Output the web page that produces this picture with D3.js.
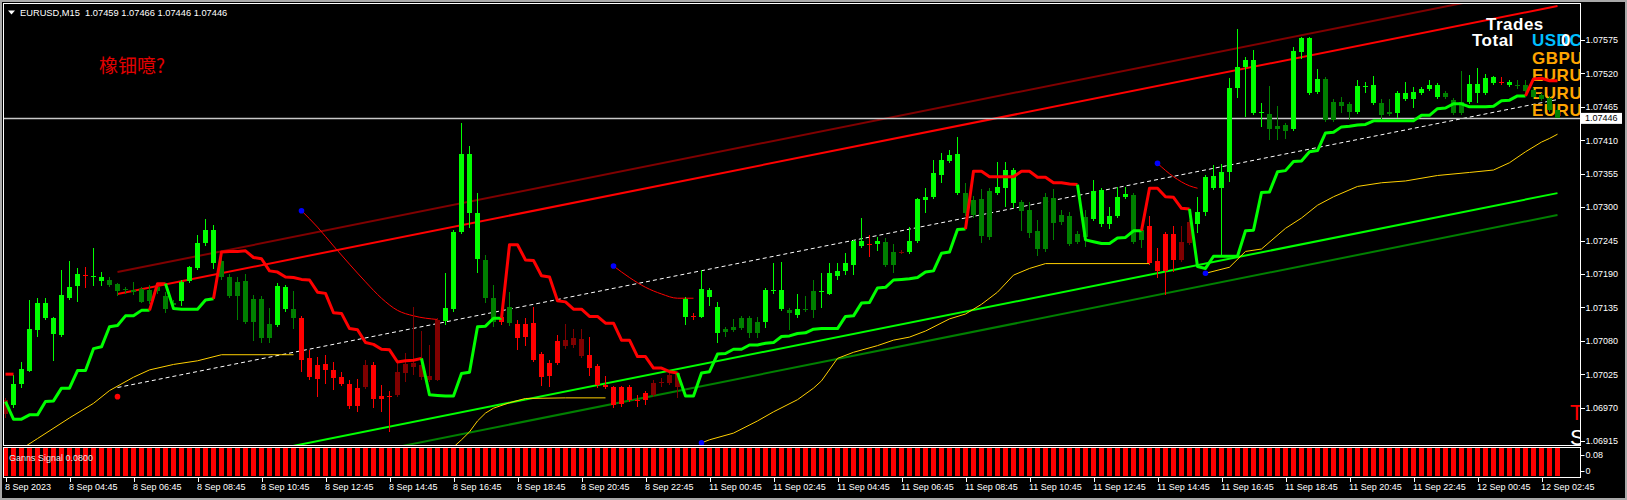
<!DOCTYPE html>
<html>
<head>
<meta charset="utf-8">
<script src="https://cdn.jsdelivr.net/npm/d3@7/dist/d3.min.js"></script>
<style>
    html, body { margin: 0; padding: 0; background: #000; }
    #chart { width: 1627px; height: 500px; }
    text { font-family: "Liberation Sans", Arial, sans-serif; }
</style>
</head>
<body>
<div id="chart"></div>
<script>
//Colores fijos
const COLOR_UP = '#00FF00',
COLOR_UP_DARK = '#008000',
COLOR_DOWN = '#FF0000',
COLOR_DOWN_DARK = '#800000',
COLOR_GOLD = '#FFD000',
COLOR_BLUE = '#0000FF',
COLOR_AXIS = '#FFFFFF',
COLOR_FRAME = '#A8A8A8';

//Datos de las velas (EURUSD M15, desde 8 Sep 02:45)
//G verde alcista, g verde oscuro, R rojo, r rojo oscuro
const barTypes = ('r' + 'GGGGGGGGG' + 'R' + 'GG' + 'ggggggggg' + 'GGGGG' + 'ggggggg' + 'GG' + 'g' +
    'RRRRRRRR' + 'r' + 'RRR' + 'rrrrrr' + 'GGGGG' + 'gg' + 'R' + 'g' + 'RRRRRR' + 'rrr' + 'RRRRRRRR' + 'rrrr' +
    'G' + 'R' + 'GGG' + 'ggggg' + 'GGG' + 'g' + 'G' + 'gg' + 'GGGGGG' + 'R' + 'G' + 'gg' + 'r' + 'GGGGGGG' +
    'gggg' + 'GGG' + 'ggggggggg' + 'GGGGG' + 'gg' + 'RRRR' + 'rr' + 'GGGGGGGGG' + 'ggg' + 'GGGG' + 'gggg' +
    'GGG' + 'gg' + 'GGGGGG' + 'ggg' + 'GGGG' + 'R' + 'G' + 'gggggg').split('');

const opens = [
    1.06959,1.06974,1.07009,1.07030,1.07098,1.07117,1.07091,1.07089,1.07150,1.07170,
    1.07188,1.07185,1.07178,1.07180,1.07173,1.07165,1.07164,1.07165,1.07164,1.07168,
    1.07154,1.07142,1.07145,1.07178,1.07200,1.07241,1.07208,1.07211,1.07185,1.07177,
    1.07178,1.07149,1.07149,1.07108,1.07106,1.07132,1.07132,1.07117,1.07052,1.07040,
    1.07042,1.07032,1.07020,1.07009,1.07002,1.07004,1.07040,1.06989,1.06989,1.06991,
    1.07027,1.07037,1.07020,1.07015,1.07015,1.07112,1.07132,1.07259,1.07290,1.07214,
    1.07213,1.07150,1.07119,1.07135,1.07108,1.07108,1.07109,1.07058,1.07043,1.07080,
    1.07071,1.07073,1.07055,1.07057,1.07038,1.07007,1.07004,1.07004,1.07004,1.06982,
    1.06994,1.06991,1.07010,1.07010,1.07004,1.07119,1.07121,1.07119,1.07152,1.07093,
    1.07099,1.07103,1.07117,1.07117,1.07111,1.07111,1.07162,1.07132,1.07130,1.07122,
    1.07132,1.07162,1.07160,1.07157,1.07186,1.07195,1.07205,1.07236,1.07239,1.07239,
    1.07242,1.07226,1.07224,1.07226,1.07244,1.07312,1.07317,1.07353,1.07376,1.07323,
    1.07323,1.07312,1.07313,1.07326,1.07323,1.07331,1.07307,1.07308,1.07295,1.07261,
    1.07317,1.07315,1.07287,1.07285,1.07256,1.07284,1.07280,1.07272,1.07272,1.07285,
    1.07317,1.07320,1.07262,1.07269,1.07211,1.07256,1.07256,1.07213,1.07241,1.07272,
    1.07292,1.07331,1.07331,1.07358,1.07496,1.07530,1.07455,1.07455,1.07453,1.07433,
    1.07435,1.07428,1.07555,1.07488,1.07489,1.07511,1.07473,1.07473,1.07470,1.07456,
    1.07498,1.07471,1.07471,1.07456,1.07455,1.07478,1.07478,1.07488,1.07494,1.07481,
    1.07488,1.07476,1.07473,1.07473,1.07488,1.07488,1.07504,1.07506,1.07501,1.07501,
    1.07501,1.07493,1.07484,1.07480,1.07459
];
const highs = [
    1.06986,1.07024,1.07045,1.07147,1.07150,1.07150,1.07119,1.07196,1.07211,1.07200,
    1.07201,1.07233,1.07193,1.07185,1.07175,1.07168,1.07177,1.07168,1.07172,1.07175,
    1.07160,1.07147,1.07180,1.07203,1.07254,1.07280,1.07270,1.07216,1.07190,1.07185,
    1.07190,1.07155,1.07154,1.07134,1.07175,1.07172,1.07162,1.07121,1.07065,1.07053,
    1.07057,1.07045,1.07028,1.07015,1.07017,1.07048,1.07045,1.07007,1.06997,1.07043,
    1.07060,1.07135,1.07096,1.07073,1.07117,1.07191,1.07262,1.07438,1.07400,1.07323,
    1.07221,1.07172,1.07124,1.07160,1.07114,1.07117,1.07135,1.07061,1.07048,1.07089,
    1.07108,1.07099,1.07099,1.07086,1.07042,1.07022,1.07005,1.07005,1.07007,1.06991,
    1.06997,1.07015,1.07019,1.07027,1.07028,1.07152,1.07126,1.07196,1.07167,1.07144,
    1.07103,1.07116,1.07121,1.07121,1.07119,1.07167,1.07208,1.07210,1.07134,1.07157,
    1.07154,1.07180,1.07191,1.07208,1.07208,1.07224,1.07246,1.07282,1.07254,1.07251,
    1.07249,1.07239,1.07229,1.07267,1.07315,1.07331,1.07377,1.07389,1.07394,1.07415,
    1.07340,1.07318,1.07330,1.07331,1.07374,1.07374,1.07364,1.07312,1.07308,1.07279,
    1.07323,1.07330,1.07295,1.07292,1.07261,1.07295,1.07345,1.07331,1.07300,1.07333,
    1.07333,1.07323,1.07265,1.07285,1.07233,1.07259,1.07269,1.07269,1.07279,1.07317,
    1.07353,1.07369,1.07371,1.07512,1.07593,1.07547,1.07558,1.07471,1.07499,1.07466,
    1.07438,1.07563,1.07580,1.07580,1.07527,1.07514,1.07478,1.07481,1.07473,1.07509,
    1.07506,1.07516,1.07478,1.07478,1.07491,1.07506,1.07498,1.07498,1.07509,1.07504,
    1.07491,1.07480,1.07524,1.07517,1.07529,1.07519,1.07516,1.07514,1.07509,1.07509,
    1.07509,1.07496,1.07488,1.07483,1.07466
];
const lows = [
    1.06953,1.06969,1.07002,1.07028,1.07086,1.07114,1.07047,1.07086,1.07147,1.07144,
    1.07167,1.07170,1.07170,1.07168,1.07154,1.07157,1.07155,1.07142,1.07140,1.07157,
    1.07126,1.07134,1.07137,1.07175,1.07196,1.07236,1.07198,1.07180,1.07150,1.07114,
    1.07108,1.07080,1.07076,1.07076,1.07103,1.07127,1.07099,1.07028,1.07015,1.06987,
    1.07009,1.06999,1.07005,1.06968,1.06963,1.07000,1.06969,1.06963,1.06930,1.06987,
    1.07012,1.07024,1.07015,1.07012,1.07014,1.07106,1.07127,1.07256,1.07265,1.07191,
    1.07142,1.07103,1.07106,1.07104,1.07065,1.07071,1.07045,1.07005,1.07004,1.07040,
    1.07066,1.07068,1.07052,1.07022,1.07002,1.07000,1.06969,1.06971,1.06979,1.06971,
    1.06974,1.06987,1.07004,1.07007,1.06986,1.07106,1.07114,1.07117,1.07137,1.07076,
    1.07086,1.07094,1.07098,1.07085,1.07085,1.07101,1.07157,1.07129,1.07098,1.07117,
    1.07127,1.07117,1.07134,1.07155,1.07180,1.07188,1.07188,1.07233,1.07218,1.07228,
    1.07201,1.07191,1.07223,1.07223,1.07241,1.07290,1.07313,1.07340,1.07372,1.07320,
    1.07285,1.07282,1.07241,1.07246,1.07320,1.07300,1.07298,1.07261,1.07249,1.07219,
    1.07226,1.07246,1.07270,1.07236,1.07239,1.07234,1.07277,1.07267,1.07264,1.07282,
    1.07313,1.07239,1.07233,1.07205,1.07183,1.07155,1.07193,1.07210,1.07238,1.07257,
    1.07285,1.07328,1.07221,1.07341,1.07480,1.07448,1.07451,1.07432,1.07410,1.07410,
    1.07412,1.07425,1.07544,1.07484,1.07486,1.07440,1.07440,1.07455,1.07443,1.07453,
    1.07488,1.07468,1.07445,1.07450,1.07447,1.07475,1.07463,1.07484,1.07491,1.07478,
    1.07478,1.07451,1.07451,1.07470,1.07471,1.07484,1.07501,1.07501,1.07498,1.07494,
    1.07488,1.07478,1.07475,1.07456,1.07446
];
const closes = [
    1.06982,1.07009,1.07033,1.07099,1.07142,1.07142,1.07117,1.07155,1.07168,1.07190,
    1.07186,1.07187,1.07185,1.07172,1.07162,1.07163,1.07160,1.07144,1.07145,1.07162,
    1.07132,1.07139,1.07177,1.07201,1.07241,1.07262,1.07262,1.07185,1.07154,1.07154,
    1.07111,1.07111,1.07085,1.07085,1.07170,1.07168,1.07117,1.07048,1.07020,1.07017,
    1.07032,1.07019,1.07009,1.06972,1.06972,1.07040,1.06984,1.06984,1.06987,1.07028,
    1.07042,1.07043,1.07040,1.07022,1.07114,1.07134,1.07259,1.07387,1.07387,1.07290,
    1.07150,1.07111,1.07111,1.07109,1.07085,1.07086,1.07048,1.07020,1.07022,1.07043,
    1.07081,1.07085,1.07083,1.07035,1.07007,1.07004,1.06974,1.06976,1.06982,1.06981,
    1.06982,1.07010,1.07012,1.07024,1.07027,1.07149,1.07119,1.07165,1.07164,1.07135,
    1.07094,1.07098,1.07101,1.07093,1.07093,1.07164,1.07164,1.07164,1.07126,1.07132,
    1.07130,1.07130,1.07162,1.07191,1.07195,1.07208,1.07244,1.07244,1.07237,1.07244,
    1.07205,1.07205,1.07226,1.07244,1.07313,1.07317,1.07356,1.07377,1.07386,1.07387,
    1.07290,1.07287,1.07252,1.07251,1.07333,1.07361,1.07361,1.07294,1.07257,1.07231,
    1.07231,1.07274,1.07275,1.07239,1.07242,1.07251,1.07326,1.07328,1.07285,1.07317,
    1.07322,1.07242,1.07246,1.07208,1.07195,1.07195,1.07213,1.07242,1.07275,1.07292,
    1.07350,1.07351,1.07358,1.07496,1.07530,1.07542,1.07542,1.07457,1.07428,1.07428,
    1.07425,1.07557,1.07578,1.07578,1.07511,1.07443,1.07443,1.07466,1.07456,1.07499,
    1.07500,1.07501,1.07451,1.07453,1.07488,1.07488,1.07489,1.07494,1.07501,1.07501,
    1.07481,1.07455,1.07455,1.07503,1.07503,1.07512,1.07514,1.07504,1.07506,1.07499,
    1.07491,1.07481,1.07478,1.07460,1.07446
];

//Linea escalonada de tendencia (un valor por vela) y tramos de direccion
const trail = [
    1.06980,1.06951,1.06951,1.06958,1.06958,1.06980,1.06981,1.07002,1.07002,1.07031,
    1.07031,1.07067,1.07070,1.07103,1.07105,1.07121,1.07121,1.07130,1.07130,1.07174,
    1.07174,1.07133,1.07132,1.07132,1.07132,1.07147,1.07149,1.07226,1.07227,1.07227,
    1.07228,1.07217,1.07215,1.07195,1.07193,1.07185,1.07184,1.07181,1.07180,1.07160,
    1.07158,1.07126,1.07125,1.07100,1.07098,1.07077,1.07074,1.07066,1.07065,1.07045,
    1.07047,1.07048,1.07051,1.06991,1.06990,1.06989,1.06989,1.07026,1.07028,1.07103,
    1.07104,1.07117,1.07117,1.07238,1.07238,1.07213,1.07212,1.07187,1.07185,1.07146,
    1.07144,1.07132,1.07132,1.07120,1.07120,1.07109,1.07109,1.07081,1.07081,1.07054,
    1.07054,1.07035,1.07035,1.07029,1.07027,1.06989,1.06989,1.07027,1.07029,1.07058,
    1.07059,1.07066,1.07066,1.07073,1.07073,1.07076,1.07077,1.07087,1.07088,1.07092,
    1.07093,1.07099,1.07100,1.07100,1.07100,1.07120,1.07121,1.07142,1.07143,1.07167,
    1.07168,1.07180,1.07181,1.07182,1.07184,1.07193,1.07195,1.07224,1.07226,1.07263,
    1.07264,1.07359,1.07359,1.07350,1.07350,1.07350,1.07350,1.07359,1.07359,1.07349,
    1.07349,1.07340,1.07340,1.07338,1.07337,1.07246,1.07243,1.07240,1.07240,1.07249,
    1.07250,1.07261,1.07261,1.07331,1.07331,1.07317,1.07316,1.07298,1.07297,1.07202,
    1.07199,1.07219,1.07219,1.07219,1.07219,1.07261,1.07262,1.07324,1.07325,1.07358,
    1.07360,1.07375,1.07376,1.07391,1.07393,1.07422,1.07423,1.07432,1.07433,1.07435,
    1.07436,1.07442,1.07442,1.07442,1.07442,1.07442,1.07442,1.07451,1.07451,1.07462,
    1.07463,1.07470,1.07470,1.07465,1.07465,1.07465,1.07466,1.07475,1.07476,1.07483,
    1.07483,1.07511,1.07512,1.07508,1.07508
];
const trendRuns = [['u',19],['d',2],['u',6],['d',26],['u',10],['d',22],['u',36],['d',14],['u',8],['d',6],['u',42],['d',4]];
const trailStub = [[0, 1.07025], [1, 1.07025]];

//Canal de regresion [vela, precio]
const channelMid = [[14, 1.07003], [194, 1.07477]];
const channelUp1 = [[14, 1.07157], [194, 1.07631]];
const channelUp2 = [[14, 1.07193], [194, 1.07667]];
const channelLow1 = [[14, 1.06849], [194, 1.07323]];
const channelLow2 = [[14, 1.06813], [194, 1.07287]];

//Lineas amarillas
const goldA = [[2,1.06902],[4,1.06919],[8,1.06953],[11,1.06977],[13,1.06998],[16,1.07020],[18,1.07032],[21,1.07041],[24,1.07047],[27,1.07057],[36,1.07057]];
const goldB = [[56,1.06905],[57,1.06917],[58,1.06930],[59,1.06948],[60,1.06961],[61,1.06969],[63,1.06978],[65,1.06985],[70,1.06986],[75,1.06986]];
const goldC = [[87,1.06912],[88,1.06917],[91,1.06928],[94,1.06948],[96,1.06963],[99,1.06983],[101,1.07002],[102,1.07014],[104,1.07051],[106,1.07061],[109,1.07072],[111,1.07081],[113,1.07086],[115,1.07096],[118,1.07116],[120,1.07124],[122,1.07140],[124,1.07160],[126,1.07188],[128,1.07199],[130,1.07207],[143,1.07207]];
const goldD = [[150,1.07191],[153,1.07201],[155,1.07227],[157,1.07231],[160,1.07265],[162,1.07282],[164,1.07303],[166,1.07317],[169,1.07334],[172,1.07340],[175,1.07343],[179,1.07352],[183,1.07357],[186,1.07361],[188,1.07373],[190,1.07391],[192,1.07407],[193,1.07413],[194,1.07420]];

//Curvas rojas finas
const curveA = [[37,1.07294],[39,1.07267],[41,1.07236],[43,1.07206],[45,1.07177],[47,1.07150],[49,1.07130],[51,1.07121],[54,1.07115]];
const curveB = [[76,1.07203],[78,1.07184],[80,1.07168],[82,1.07157],[84,1.07150],[86,1.07150]];
const curveC = [[144,1.07372],[146,1.07350],[148,1.07335],[149,1.07331]];

//Puntos
const blueDots = [[37,1.07294],[76,1.07203],[87,1.06912],[144,1.07372],[150,1.07191]];
const redDots = [[14,1.06988]];

//Indicador Ganns Signal
const signalRuns = [{from: 0, to: 194, value: 0.08}];
const signalTicks = [0.08, 0];

//Ejes
const priceTicks = [1.06915,1.06970,1.07025,1.07080,1.07135,1.07190,1.07245,1.07300,1.07355,1.07410,1.07465,1.07520,1.07575];
const tickBars = [0,8,16,24,32,40,48,56,64,72,80,88,96,104,112,120,128,136,144,152,160,168,176,184,192];
const dateLabels = ['8 Sep 2023','8 Sep 04:45','8 Sep 06:45','8 Sep 08:45','8 Sep 10:45','8 Sep 12:45','8 Sep 14:45',
    '8 Sep 16:45','8 Sep 18:45','8 Sep 20:45','8 Sep 22:45','11 Sep 00:45','11 Sep 02:45','11 Sep 04:45',
    '11 Sep 06:45','11 Sep 08:45','11 Sep 10:45','11 Sep 12:45','11 Sep 14:45','11 Sep 16:45','11 Sep 18:45',
    '11 Sep 20:45','11 Sep 22:45','12 Sep 00:45','12 Sep 02:45'];

//Textos
const headerText = 'EURUSD,M15  1.07459 1.07466 1.07446 1.07446';
const noteText = '橡钿噫?';
const lastPrice = 1.07446;
const panelPairs = ['USDC', 'GBPU', 'EURU', 'EURU', 'EURU'];
const panelColors = ['#00BFFF', '#FFA500', '#FFA500', '#FFA500', '#FFA500'];
const sideLetters = [{t: 'T', color: '#FF0000', y: 420}, {t: 'S', color: '#FFFFFF', y: 445}];

function initChart() {
    let W = 1627, H = 500;
    let plot = {left: 4, right: 1580, top: 4, bottom: 445};
    let sub = {top: 447.5, bottom: 477.5};

    let svg = d3.select('#chart')
        .append('svg')
            .attr('width', W)
            .attr('height', H)
            .style('display', 'block')
            .style('background', '#000');

    //Escalas
    let x = d3.scaleLinear()
        .domain([0, 194])
        .range([5.5, 1557.5]);

    let y = d3.scaleLinear()
        .domain([1.06915, 1.07575])
        .range([441, 40]);

    let ySig = d3.scaleLinear()
        .domain([0, 0.08])
        .range([476, 448]);

    let line = d3.line()
        .x(function(d) { return x(d[0]); })
        .y(function(d) { return y(d[1]); });

    let curve = d3.line()
        .x(function(d) { return x(d[0]); })
        .y(function(d) { return y(d[1]); })
        .curve(d3.curveMonotoneX);

    //Marco exterior
    svg.append('rect')
        .attr('x', 1).attr('y', 1)
        .attr('width', W - 2).attr('height', H - 2)
        .attr('fill', 'none')
        .attr('stroke', COLOR_FRAME)
        .attr('stroke-width', 2);

    svg.append('clipPath')
        .attr('id', 'clip-main')
        .append('rect')
            .attr('x', plot.left)
            .attr('y', plot.top)
            .attr('width', plot.right - plot.left)
            .attr('height', plot.bottom - plot.top);

    let chart = svg.append('g').attr('clip-path', 'url(#clip-main)');

    //Canal
    [[channelUp2, COLOR_DOWN_DARK], [channelUp1, COLOR_DOWN], [channelLow1, COLOR_UP], [channelLow2, COLOR_UP_DARK]].forEach(function(item) {
        chart.append('path')
            .attr('d', line(item[0]))
            .attr('fill', 'none')
            .attr('stroke', item[1])
            .attr('stroke-width', 2);
    });

    chart.append('path')
        .attr('d', line(channelMid))
        .attr('fill', 'none')
        .attr('stroke', '#FFFFFF')
        .attr('stroke-width', 1)
        .attr('stroke-dasharray', '4,3');

    //Lineas amarillas y curvas
    [goldA, goldB, goldC, goldD].forEach(function(item) {
        chart.append('path')
            .attr('d', line(item))
            .attr('fill', 'none')
            .attr('stroke', COLOR_GOLD)
            .attr('stroke-width', 1);
    });

    [curveA, curveB, curveC].forEach(function(item) {
        chart.append('path')
            .attr('d', curve(item))
            .attr('fill', 'none')
            .attr('stroke', COLOR_DOWN)
            .attr('stroke-width', 1);
    });

    //Linea de precio actual
    chart.append('line')
        .attr('x1', plot.left).attr('x2', plot.right)
        .attr('y1', Math.round(y(lastPrice)) + 0.5).attr('y2', Math.round(y(lastPrice)) + 0.5)
        .attr('stroke', '#C8C8C8')
        .attr('stroke-width', 1.5);

    //Panel de operaciones
    let panel = chart.append('g')
        .attr('font-weight', 'bold')
        .attr('font-size', '17px')
        .attr('letter-spacing', '0.5px');

    panel.append('text').attr('x', 1486).attr('y', 30).attr('fill', '#FFFFFF').text('Trades');
    panel.append('text').attr('x', 1472).attr('y', 46).attr('fill', '#FFFFFF').text('Total');

    panel.selectAll('.pair')
        .data(panelPairs)
        .enter()
        .append('text')
            .attr('class', 'pair')
            .attr('x', 1532)
            .attr('y', function(d, i) { return 46 + i * 17.6; })
            .attr('fill', function(d, i) { return panelColors[i]; })
            .text(function(d) { return d; });

    panel.append('text').attr('x', 1561).attr('y', 46).attr('fill', '#FFFFFF').text('0');

    chart.selectAll('.side')
        .data(sideLetters)
        .enter()
        .append('text')
            .attr('class', 'side')
            .attr('x', 1570)
            .attr('y', function(d) { return d.y; })
            .attr('font-size', '22px')
            .attr('fill', function(d) { return d.color; })
            .text(function(d) { return d.t; });

    //Velas
    let colorOf = {G: COLOR_UP, g: COLOR_UP_DARK, R: COLOR_DOWN, r: COLOR_DOWN_DARK};
    let candles = opens.map(function(o, i) {
        return {i: i, type: barTypes[i], o: o, h: highs[i], l: lows[i], c: closes[i]};
    });

    let candleG = chart.append('g')
        .attr('shape-rendering', 'crispEdges')
        .selectAll('g')
        .data(candles)
        .enter()
        .append('g')
        .attr('fill', function(d) { return colorOf[d.type]; })
        .attr('stroke', function(d) { return colorOf[d.type]; });

    candleG.append('line')
        .attr('x1', function(d) { return x(d.i); })
        .attr('x2', function(d) { return x(d.i); })
        .attr('y1', function(d) { return y(d.h); })
        .attr('y2', function(d) { return y(d.l); })
        .attr('stroke-width', 1);

    candleG.append('rect')
        .attr('stroke', 'none')
        .attr('x', function(d) { return x(d.i) - 2.5; })
        .attr('width', 5)
        .attr('y', function(d) { return y(Math.max(d.o, d.c)); })
        .attr('height', function(d) { return Math.max(1, Math.abs(y(d.o) - y(d.c))); });

    //Linea de tendencia
    let dirs = [];
    trendRuns.forEach(function(run) {
        for (let k = 0; k < run[1]; k++) { dirs.push(run[0]); }
    });

    let pieces = [];
    for (let i = 1; i < trail.length; i++) {
        let last = pieces[pieces.length - 1];
        if (!last || last.dir != dirs[i]) {
            last = {dir: dirs[i], pts: [[i - 1, trail[i - 1]]]};
            pieces.push(last);
        }
        last.pts.push([i, trail[i]]);
    }
    pieces.push({dir: 'd', pts: trailStub});

    chart.append('g')
        .selectAll('path')
        .data(pieces)
        .enter()
        .append('path')
            .attr('d', function(d) { return line(d.pts); })
            .attr('fill', 'none')
            .attr('stroke', function(d) { return d.dir == 'u' ? COLOR_UP : COLOR_DOWN; })
            .attr('stroke-width', 3)
            .attr('stroke-linejoin', 'round');

    //Puntos
    chart.selectAll('.dot-blue')
        .data(blueDots)
        .enter()
        .append('circle')
            .attr('cx', function(d) { return x(d[0]); })
            .attr('cy', function(d) { return y(d[1]); })
            .attr('r', 2.8)
            .attr('fill', COLOR_BLUE);

    chart.selectAll('.dot-red')
        .data(redDots)
        .enter()
        .append('circle')
            .attr('cx', function(d) { return x(d[0]); })
            .attr('cy', function(d) { return y(d[1]); })
            .attr('r', 2.8)
            .attr('fill', COLOR_DOWN);

    //Textos superiores
    svg.append('path')
        .attr('d', 'M8,10.5 L15,10.5 L11.5,14.5 Z')
        .attr('fill', '#FFFFFF');

    svg.append('text')
        .attr('x', 20).attr('y', 16)
        .attr('font-size', '9.3px')
        .attr('fill', '#FFFFFF')
        .style('white-space', 'pre')
        .text(headerText);

    svg.append('text')
        .attr('x', 99).attr('y', 73)
        .attr('font-size', '19px')
        .attr('fill', '#E00000')
        .style('font-family', '"Noto Sans CJK SC", sans-serif')
        .text(noteText);

    //Ventana del indicador
    let signalBars = [];
    signalRuns.forEach(function(run) {
        for (let k = run.from; k <= run.to; k++) { signalBars.push({i: k, v: run.value}); }
    });

    svg.append('g')
        .attr('shape-rendering', 'crispEdges')
        .selectAll('rect')
        .data(signalBars)
        .enter()
        .append('rect')
            .attr('x', function(d) { return x(d.i) - 2.5; })
            .attr('width', 5)
            .attr('y', function(d) { return ySig(d.v); })
            .attr('height', function(d) { return ySig(0) - ySig(d.v); })
            .attr('fill', COLOR_DOWN);

    svg.append('text')
        .attr('x', 9).attr('y', 461)
        .attr('font-size', '9px')
        .attr('fill', '#E8E8E8')
        .text('Ganns Signal 0.0800');

    //Bordes
    svg.append('rect')
        .attr('x', 3.5).attr('y', 3.5)
        .attr('width', plot.right - 3).attr('height', plot.bottom - 3)
        .attr('fill', 'none')
        .attr('stroke', COLOR_AXIS)
        .attr('shape-rendering', 'crispEdges');

    svg.append('rect')
        .attr('x', 3.5).attr('y', sub.top)
        .attr('width', plot.right - 3).attr('height', sub.bottom - sub.top)
        .attr('fill', 'none')
        .attr('stroke', COLOR_AXIS)
        .attr('shape-rendering', 'crispEdges');

    //Eje de precios
    let yAxis = d3.axisRight(y)
        .tickValues(priceTicks)
        .tickSize(4)
        .tickPadding(1)
        .tickFormat(d3.format('.5f'));

    let gy = svg.append('g')
        .attr('transform', 'translate(' + (plot.right + 0.5) + ',0)')
        .call(yAxis);

    gy.select('.domain').remove();
    gy.selectAll('line').attr('stroke', COLOR_AXIS).attr('shape-rendering', 'crispEdges');
    gy.selectAll('text').attr('fill', COLOR_AXIS).attr('font-size', '9px').style('font-family', '"Liberation Sans", Arial, sans-serif');

    //Etiqueta precio actual
    svg.append('rect')
        .attr('x', 1581).attr('y', y(lastPrice) - 5.5)
        .attr('width', 41).attr('height', 11)
        .attr('fill', '#FFFFFF');

    svg.append('text')
        .attr('x', 1585).attr('y', y(lastPrice))
        .attr('dy', '0.34em')
        .attr('font-size', '9px')
        .attr('fill', '#000000')
        .text(d3.format('.5f')(lastPrice));

    //Eje del indicador
    let gs = svg.append('g').attr('transform', 'translate(' + (plot.right + 0.5) + ',0)');
    signalTicks.forEach(function(v) {
        let yy = Math.min(Math.max(ySig(v), sub.top + 7), sub.bottom - 7);
        gs.append('line').attr('x1', 0).attr('x2', 4).attr('y1', Math.round(yy) + 0.5).attr('y2', Math.round(yy) + 0.5).attr('stroke', COLOR_AXIS);
        gs.append('text').attr('x', 5).attr('y', yy).attr('dy', '0.34em').attr('font-size', '9px').attr('fill', COLOR_AXIS).text(v == 0 ? '0' : d3.format('.2f')(v));
    });

    //Eje de tiempo
    let xAxis = d3.axisBottom(x)
        .tickValues(tickBars)
        .tickSize(4)
        .tickPadding(2)
        .tickFormat(function(d, i) { return dateLabels[i]; });

    let gx = svg.append('g')
        .attr('transform', 'translate(0,' + (sub.bottom + 0.5) + ')')
        .call(xAxis);

    gx.select('.domain').remove();
    gx.selectAll('line').attr('stroke', COLOR_AXIS).attr('shape-rendering', 'crispEdges');
    gx.selectAll('text')
        .attr('fill', COLOR_AXIS)
        .attr('font-size', '9px')
        .attr('text-anchor', 'start')
        .attr('dx', '-1px')
        .style('font-family', '"Liberation Sans", Arial, sans-serif');
}

initChart();
</script>
</body>
</html>
